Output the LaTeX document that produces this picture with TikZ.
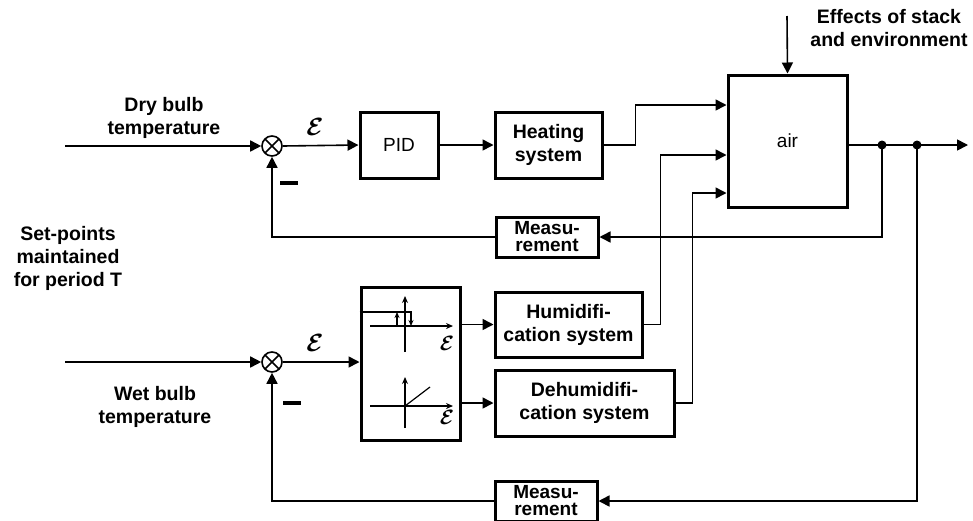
\documentclass[tikz,border=0pt]{standalone}
\usepackage{fontspec}
\setmainfont{Liberation Sans}
\usepackage{bm}
\usetikzlibrary{arrows.meta}

\begin{document}
\begin{tikzpicture}[x=1pt, y=-1pt,
    block/.style={draw, line width=3pt, align=center, inner sep=0pt,
      font=\fontsize{19.5}{23}\selectfont\bfseries},
    measbox/.style={block, minimum width=102pt, minimum height=40pt,
      font=\fontsize{19}{17}\selectfont\bfseries},
    plainbox/.style={draw, line width=3pt, inner sep=0pt,
      font=\fontsize{19}{20}\selectfont},
    sumnode/.style={circle, draw, line width=1.6pt, minimum size=20pt,
      inner sep=0pt, path picture={
        \draw[line width=1.6pt]
          (path picture bounding box.north west) -- (path picture bounding box.south east)
          (path picture bounding box.north east) -- (path picture bounding box.south west);}},
    sig/.style={-{Triangle[length=11pt, width=11pt]}, line width=1.6pt},
    lbl/.style={align=center, font=\fontsize{19.5}{23}\selectfont\bfseries},
    eps/.style={inner sep=0pt, font=\fontsize{29}{29}\selectfont},
    smalleps/.style={inner sep=0pt, font=\fontsize{21}{21}\selectfont},
    minus/.style={inner sep=0pt},
    axis/.style={-{Stealth[length=7pt, width=6pt]}, line width=1.2pt},
    tick/.style={-{Stealth[length=6pt, width=5pt]}, line width=1.2pt},
  ]
  \useasboundingbox (0,0) rectangle (973,520);

  % Summing junctions and blocks
  \node[sumnode] (sum1) at (272,146) {};
  \node[sumnode] (sum2) at (272,362) {};
  \node[plainbox, minimum width=78pt, minimum height=66pt] (pid) at (399,145) {PID};
  \node[block, minimum width=107pt, minimum height=66pt] (heat) at (548.5,145)
    {Heating\\system};
  \node[plainbox, minimum width=119pt, minimum height=132pt] (air) at (787.5,141) {air};
  \node[measbox] (meas1) at (547,237) {Measu-\\rement};
  \node[draw, line width=3pt, minimum width=99pt, minimum height=153pt] (relay)
    at (410.5,363.5) {};
  \node[block, minimum width=147pt, minimum height=65pt] (hum) at (568.5,324.5)
    {Humidifi-\\cation system};
  \node[block, minimum width=179pt, minimum height=66pt] (dehum) at (584.5,403)
    {Dehumidifi-\\cation system};
  \node[measbox] (meas2) at (546,501) {Measu-\\rement};

  % Labels
  \node[lbl] (dry) at (164,118) {Dry bulb\\temperature};
  \node[lbl] (setp) at (68,258) {Set-points\\maintained\\for period T};
  \node[lbl] (wet) at (155,407) {Wet bulb\\temperature};
  \node[lbl] (effects) at (889,28) {Effects of stack\\and environment};
  \node[eps] (eps1) at (315,127) {$\bm{\mathcal{E}}$};
  \node[eps] (eps2) at (315,343) {$\bm{\mathcal{E}}$};
  \node[minus] (neg1) at (289,183) {\rule{18pt}{4pt}};
  \node[minus] (neg2) at (292,403) {\rule{18pt}{4pt}};

  % Free ends
  \coordinate (in1) at (65,146);
  \coordinate (in2) at (65,362);
  \coordinate (dist) at (787,16);
  \coordinate (out) at (968,145);
  \coordinate (tap1) at (882,145);
  \coordinate (tap2) at (917,145);

  % Forward paths
  \draw[sig] (in1) -- (sum1.west);
  \draw[sig] (sum1.east) -- (pid.west);
  \draw[sig] (pid.east) -- (heat.west);
  \draw[sig] (heat.east) -- ++(32,0) |- ([yshift=36pt]air.west);
  \draw[sig] (dist) -- (air.north);
  \draw[sig] (air.east |- out) -- (out);
  \draw[sig] (in2) -- (sum2.west);
  \draw[sig] (sum2.east) -- (sum2.east -| relay.west);
  \draw[sig] (relay.east |- hum.west) -- (hum.west);
  \draw[sig] (relay.east |- dehum.west) -- (dehum.west);
  \draw[sig] (hum.east) -- ++(17,0) |- ([yshift=-14pt]air.west);
  \draw[sig] (dehum.east) -- ++(17,0) |- ([yshift=-52pt]air.west);

  % Feedback paths
  \foreach \tap/\meas/\sum in {tap1/meas1/sum1, tap2/meas2/sum2} {
    \fill (\tap) circle (4.5pt);
    \draw[sig] (\tap) |- (\meas.east);
    \draw[sig] (\meas.west) -| (\sum.south);
  }

  % Relay characteristics
  \draw[axis] (370,326) -- (453,326);
  \draw[axis] (405,352) -- (405,296);
  \draw[line width=1.2pt] (relay.west |- 0,312) -- (412,312);
  \draw[tick] (397,326) -- (397,312);
  \draw[tick] (411,312) -- (411,326);
  \node[smalleps] (eps3) at (447,343) {$\bm{\mathcal{E}}$};
  \draw[axis] (370,406) -- (453,406);
  \draw[axis] (405,428) -- (405,377);
  \draw[line width=1.2pt] (405,406) -- (430,387);
  \node[smalleps] (eps4) at (447,417) {$\bm{\mathcal{E}}$};
\end{tikzpicture}
\end{document}
